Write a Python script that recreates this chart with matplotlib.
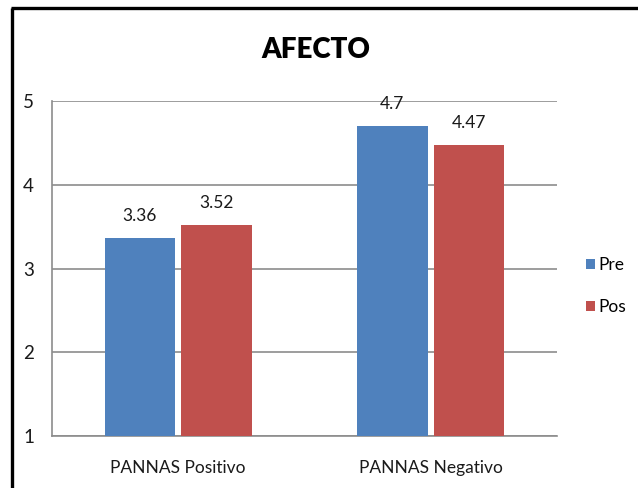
import matplotlib
matplotlib.use("Agg")
import matplotlib.pyplot as plt
from matplotlib.lines import Line2D
import numpy as np

categories = ["PANNAS Positivo", "PANNAS Negativo"]
series_names = ["Pre", "Pos"]
pre_values = [3.36, 4.7]
pos_values = [3.52, 4.47]
pre_labels = ["3.36", "4.7"]
pos_labels = ["3.52", "4.47"]
y_ticks = [1, 2, 3, 4, 5]

BLUE = "#4F81BD"
RED = "#C0504D"
GRID = "#8C8C8C"
TEXT = "#1a1a1a"

plt.rcParams["font.family"] = ["Lato", "DejaVu Sans"]

W, H = 638, 488
fig = plt.figure(figsize=(W / 100, H / 100), dpi=100)
fig.patch.set_facecolor("white")

# frame around the chart (top and left edges visible)
fig.add_artist(Line2D([11 / W, 1.0], [1 - 8 / H, 1 - 8 / H], color="black", lw=2.4,
                      transform=fig.transFigure, solid_capstyle="butt"))
fig.add_artist(Line2D([12 / W, 12 / W], [1 - 8 / H, 0.0], color="black", lw=2.4,
                      transform=fig.transFigure, solid_capstyle="butt"))

ax = fig.add_axes([52 / W, 1 - 436 / H, (557 - 52) / W, (436 - 101) / H])
x = np.arange(len(categories))
bw = 0.28
off = 0.152
b1 = ax.bar(x - off, pre_values, bw, color=BLUE, label=series_names[0], zorder=3)
b2 = ax.bar(x + off, pos_values, bw, color=RED, label=series_names[1], zorder=3)

for bars, labels in ((b1, pre_labels), (b2, pos_labels)):
    for rect, lab in zip(bars, labels):
        ax.text(rect.get_x() + rect.get_width() / 2, rect.get_height() + 0.17, lab,
                ha="center", va="bottom", fontsize=12.5, color=TEXT)

ax.set_ylim(1, 5)
ax.set_xlim(-0.5, 1.5)
ax.set_yticks(y_ticks)
ax.set_yticklabels([str(t) for t in y_ticks], fontsize=13.5, color=TEXT)
ax.set_xticks(x)
ax.set_xticklabels(categories, fontsize=12.5, color=TEXT)
ax.tick_params(axis="y", length=0, pad=13)
ax.tick_params(axis="x", length=0, pad=17)
ax.yaxis.grid(True, color=GRID, lw=1.2, zorder=0)
ax.set_axisbelow(True)
for s in ["top", "right"]:
    ax.spines[s].set_visible(False)
for s in ["left", "bottom"]:
    ax.spines[s].set_color(GRID)
    ax.spines[s].set_linewidth(1.2)

fig.text(316 / W, 1 - 50 / H, "AFECTO", ha="center", va="center",
         fontsize=20, fontweight="heavy", color="black")

leg = fig.legend(handles=[b1, b2], labels=series_names, loc="center left",
                 bbox_to_anchor=(584 / W, 1 - 286 / H), frameon=False,
                 fontsize=12.5, handlelength=0.55, handleheight=0.55,
                 handletextpad=0.2, labelspacing=1.5, borderpad=0.1,
                 borderaxespad=0)

fig.savefig("out.png", dpi=100)
